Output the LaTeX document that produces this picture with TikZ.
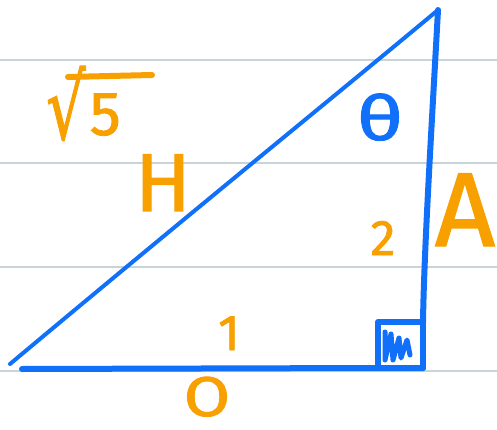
\documentclass[tikz,border=0pt]{standalone}
\usepackage{fontspec}
\setmainfont{Fira Sans}[FakeBold=1.4]
\newfontfamily\symfont{DejaVu Sans}[FakeBold=1.4]
\definecolor{penblue}{RGB}{16,112,250}
\definecolor{penorange}{RGB}{247,160,0}
\definecolor{ruleline}{RGB}{200,212,216}
\begin{document}
\begin{tikzpicture}[x=1pt,y=-1pt,
  ruling/.style={draw=ruleline,line width=1.2pt},
  edge/.style={draw=penblue,line width=6pt,line cap=round,line join=round},
  hypo/.style={draw=penblue,line width=4pt,line cap=round},
  olabel/.style={text=penorange,font=\fontsize{#1}{#1}\selectfont,inner sep=0pt,anchor=base},
  blabel/.style={text=penblue,font=\fontsize{#1}{#1}\selectfont,inner sep=0pt,anchor=base}]
\useasboundingbox (0,0) rectangle (497,430);
\fill[white] (0,0) rectangle (497,430);
\foreach \yy in {60,163,267,371} \draw[ruling] (0,\yy) -- (497,\yy);
% vertices
\coordinate (top) at (438,10);
\coordinate (bl) at (10,364);
\coordinate (b0) at (22,369);
\coordinate (br) at (423,368);
\coordinate (sq1) at (378,322);
\coordinate (sq2) at (423,322);
% edges
\draw[hypo] (bl) .. controls (200,205) and (330,100) .. (top);
\draw[edge] (top) .. controls (432,120) and (424,250) .. (sq2);
\draw[edge] (b0) -- (sq1 |- br) -- (br);
\draw[edge] (sq1 |- br) -- (sq1) -- (sq2) -- (br);
\draw[penblue,line width=5pt,line cap=round,line join=round]
  (385,332) -- (385,360) -- (391,334) -- (393,360) -- (399,338) -- (401,358) -- (407,340) -- (410,355);
% labels
\node[olabel=62,anchor=base west] (sqrt5) at (46,135)
  {\raisebox{-4pt}{\scalebox{1}[1.45]{\symfont√}}\kern4pt 5};
\coordinate (barL) at (68,77);
\coordinate (barR) at (152,75);
\draw[penorange,line width=6pt,line cap=round] (barL) -- (barR);
\node[olabel=82] (H) at (163,211) {H};
\node[olabel=105] (A) at (465,246) {A};
\node[olabel=50] (two) at (383,255) {2};
\node[olabel=50] (one) at (229,350) {1};
\node[olabel=56,xscale=1.2] (O) at (207,416) {O};
\node[blabel=62,xscale=1.3] (theta) at (380,140) {θ};
\end{tikzpicture}
\end{document}
